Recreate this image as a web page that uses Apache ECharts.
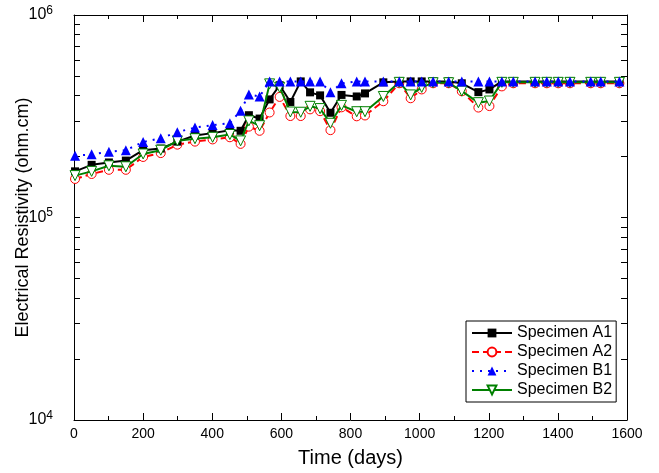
<!DOCTYPE html>
<html>
<head>
<meta charset="utf-8">
<script src="https://cdn.jsdelivr.net/npm/echarts@6/dist/echarts.min.js"></script>
<style>html,body{margin:0;padding:0;background:#fff}#c{width:659px;height:473px}</style>
</head>
<body>
<div id="c"></div>
<script>
// Shared measurement days
var days = [3, 51, 101, 150, 200, 251, 299, 350, 401, 451, 482, 506, 537, 566, 595, 626, 656, 683, 712, 742, 774, 818, 842, 895, 941, 974, 1006, 1039, 1084, 1122, 1170, 1202, 1238, 1271, 1334, 1368, 1401, 1435, 1495, 1524, 1578];

var specimenA1 = [1.69e5, 1.82e5, 1.87e5, 1.91e5, 2.15e5, 2.19e5, 2.37e5, 2.54e5, 2.61e5, 2.70e5, 2.68e5, 3.20e5, 3.08e5, 3.83e5, 4.5e5, 3.72e5, 4.7e5, 4.15e5, 4.01e5, 3.29e5, 4.03e5, 3.96e5, 4.10e5, 4.65e5, 4.7e5, 4.7e5, 4.7e5, 4.7e5, 4.7e5, 4.6e5, 4.16e5, 4.29e5, 4.7e5, 4.7e5, 4.7e5, 4.7e5, 4.7e5, 4.7e5, 4.7e5, 4.7e5, 4.7e5];

var specimenA2 = [1.55e5, 1.64e5, 1.72e5, 1.72e5, 1.99e5, 2.08e5, 2.29e5, 2.37e5, 2.43e5, 2.49e5, 2.31e5, 2.81e5, 2.68e5, 3.30e5, 3.94e5, 3.17e5, 3.17e5, 3.42e5, 3.35e5, 2.70e5, 3.50e5, 3.16e5, 3.19e5, 3.75e5, 4.6e5, 3.88e5, 4.29e5, 4.6e5, 4.6e5, 4.2e5, 3.49e5, 3.55e5, 4.44e5, 4.6e5, 4.6e5, 4.6e5, 4.6e5, 4.6e5, 4.6e5, 4.6e5, 4.6e5];

var specimenB1 = [2.02e5, 2.05e5, 2.11e5, 2.15e5, 2.36e5, 2.46e5, 2.64e5, 2.78e5, 2.86e5, 2.92e5, 3.37e5, 4.05e5, 3.96e5, 4.7e5, 4.7e5, 4.7e5, 4.7e5, 4.7e5, 4.7e5, 4.15e5, 4.6e5, 4.7e5, 4.7e5, 4.7e5, 4.7e5, 4.7e5, 4.7e5, 4.7e5, 4.7e5, 4.7e5, 4.7e5, 4.7e5, 4.7e5, 4.7e5, 4.7e5, 4.7e5, 4.7e5, 4.7e5, 4.7e5, 4.7e5, 4.7e5];

var specimenB2 = [1.61e5, 1.69e5, 1.80e5, 1.78e5, 2.06e5, 2.15e5, 2.39e5, 2.45e5, 2.49e5, 2.57e5, 2.39e5, 3.00e5, 2.84e5, 4.57e5, 4.39e5, 3.32e5, 3.31e5, 3.54e5, 3.45e5, 2.92e5, 3.58e5, 3.33e5, 3.33e5, 3.96e5, 4.65e5, 4.03e5, 4.39e5, 4.63e5, 4.63e5, 4.21e5, 3.69e5, 3.76e5, 4.65e5, 4.65e5, 4.65e5, 4.65e5, 4.65e5, 4.65e5, 4.65e5, 4.65e5, 4.65e5];

var seriesNames = ['Specimen A1', 'Specimen A2', 'Specimen B1', 'Specimen B2'];
var xTicks = [0, 200, 400, 600, 800, 1000, 1200, 1400, 1600];
var yMajor = [1e4, 1e5, 1e6];
var yTicks = [1e4, 2e4, 3e4, 4e4, 5e4, 6e4, 7e4, 8e4, 9e4, 1e5, 2e5, 3e5, 4e5, 5e5, 6e5, 7e5, 8e5, 9e5, 1e6];

function pairs(vals) { return days.map(function (d, i) { return [d, vals[i]]; }); }

var FONT = '"Liberation Sans", Arial, sans-serif';
var chart = echarts.init(document.getElementById('c'), null, { renderer: 'canvas' });

var baseX = {
  type: 'value', min: 0, max: 1600, interval: 200,
  axisLine: { show: true, onZero: false, lineStyle: { color: '#000', width: 1 } },
  axisTick: { show: true, inside: true, length: 7, lineStyle: { color: '#000' } },
  minorTick: { show: true, splitNumber: 2, length: 4, lineStyle: { color: '#000' } },
  splitLine: { show: false }
};
var baseY = {
  type: 'log', logBase: 10, min: 1e4, max: 1e6,
  axisLine: { show: true, onZero: false, lineStyle: { color: '#000', width: 1 } },
  axisTick: { show: true, inside: true, length: 6, customValues: yTicks, lineStyle: { color: '#000' } },
  splitLine: { show: false }
};
function clone(o, extra) { return Object.assign(JSON.parse(JSON.stringify(o)), extra); }

var option = {
  backgroundColor: '#fff',
  animation: false,
  grid: { left: 74, right: 32, top: 15, bottom: 50 },
  xAxis: [
    clone(baseX, {
      position: 'bottom',
      name: 'Time (days)', nameLocation: 'middle', nameGap: 28,
      nameTextStyle: { fontFamily: FONT, fontSize: 20, color: '#000' },
      axisLabel: { show: true, margin: 7, fontFamily: FONT, fontSize: 14, color: '#000', customValues: xTicks,
        formatter: function (v) { return String(v); } }
    }),
    clone(baseX, { position: 'top', axisLabel: { show: false } })
  ],
  yAxis: [
    clone(baseY, {
      position: 'left',
      name: 'Electrical Resistivity (ohm.cm)', nameLocation: 'middle', nameGap: 42,
      nameMoveOverlap: false,
      nameTextStyle: { fontFamily: FONT, fontSize: 18, color: '#000' },
      axisLabel: {
        show: true, margin: 21, customValues: yMajor,
        formatter: function (v) { return '{b|10}{s|' + Math.round(Math.log10(v)) + '}'; },
        rich: {
          b: { fontFamily: FONT, fontSize: 16, color: '#000' },
          s: { fontFamily: FONT, fontSize: 12, color: '#000', padding: [0, 0, 9, 0] }
        }
      }
    }),
    clone(baseY, { position: 'right', axisLabel: { show: false } })
  ],
  legend: {
    data: seriesNames,
    orient: 'vertical', left: 466, top: 321,
    padding: [4, 4, 4, 5], itemGap: 3, itemWidth: 40, itemHeight: 11,
    borderColor: '#000', borderWidth: 1, backgroundColor: '#fff',
    textStyle: { fontFamily: FONT, fontSize: 16, color: '#000' }
  },
  series: [
    {
      name: seriesNames[1], type: 'line', data: pairs(specimenA2), z: 2,
      symbol: 'circle', symbolSize: 9,
      itemStyle: { color: '#fff', borderColor: '#ff0000', borderWidth: 1 },
      lineStyle: { color: '#ff0000', width: 2, type: [7, 4] }
    },
    {
      name: seriesNames[0], type: 'line', data: pairs(specimenA1), z: 3,
      symbol: 'rect', symbolSize: 8,
      itemStyle: { color: '#000', borderColor: '#000', borderWidth: 0 },
      lineStyle: { color: '#000', width: 2, type: 'solid' }
    },
    {
      name: seriesNames[3], type: 'line', data: pairs(specimenB2), z: 4,
      symbol: 'triangle', symbolRotate: 180, symbolSize: 10,
      itemStyle: { color: '#fff', borderColor: '#008000', borderWidth: 1 },
      lineStyle: { color: '#008000', width: 2, type: 'solid' }
    },
    {
      name: seriesNames[2], type: 'line', data: pairs(specimenB1), z: 5,
      symbol: 'triangle', symbolSize: 10,
      itemStyle: { color: '#0000ff', borderColor: '#0000ff', borderWidth: 0 },
      lineStyle: { color: '#0000ff', width: 2, type: [2, 6] }
    }
  ]
};
chart.setOption(option);
</script>
</body>
</html>
